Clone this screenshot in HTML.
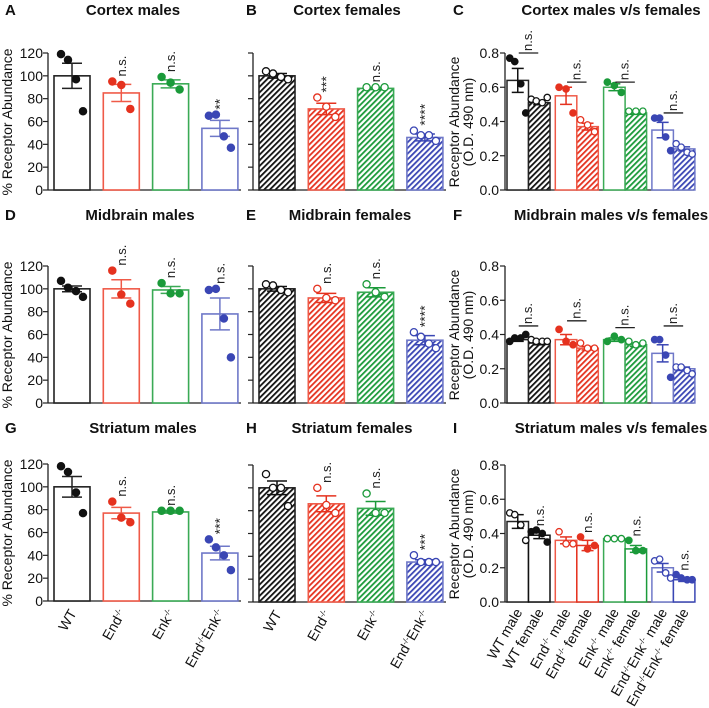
<!DOCTYPE html>
<html><head><meta charset="utf-8"><style>
html,body{margin:0;padding:0;background:#fff;}
svg{display:block;font-family:"Liberation Sans",Arial,sans-serif;}
</style></head><body>
<svg id="fig" width="709" height="708" viewBox="0 0 709 708" xmlns="http://www.w3.org/2000/svg">
<defs>
<pattern id="h-k" width="4" height="4" patternUnits="userSpaceOnUse" patternTransform="rotate(45)"><rect width="4" height="4" fill="#fff"/><rect width="1.8" height="4" fill="#111"/></pattern>
<pattern id="h-r" width="4" height="4" patternUnits="userSpaceOnUse" patternTransform="rotate(45)"><rect width="4" height="4" fill="#fff"/><rect width="1.8" height="4" fill="#e5321f"/></pattern>
<pattern id="h-g" width="4" height="4" patternUnits="userSpaceOnUse" patternTransform="rotate(45)"><rect width="4" height="4" fill="#fff"/><rect width="1.8" height="4" fill="#1b9a3a"/></pattern>
<pattern id="h-b" width="4" height="4" patternUnits="userSpaceOnUse" patternTransform="rotate(45)"><rect width="4" height="4" fill="#fff"/><rect width="1.8" height="4" fill="#3a46b4"/></pattern>
</defs>
</svg>
<script>
// ---- data ----
const groups = ['WT','End','Enk','DKO'];
const pctTicks = [0,20,40,60,80,100,120];
const odTicks = ['0.0','0.2','0.4','0.6','0.8'];
// A Cortex males
const aMeans=[100,85,93,54]; const aSem=[11,7.5,3.5,7];
const aPts=[[119,114,97,69],[95,92,71],[99,94,88],[65,66,47,37]]; const aSig=['','n.s.','n.s.','**'];
// B Cortex females
const bMeans=[100,71,89,46]; const bSem=[2,5,1,3];
const bPts=[[104,102,99,97],[81,73,64],[90,90,90],[52,48,48,43]]; const bSig=['','***','n.s.','****'];
// C Cortex m vs f
const cMaleMeans=[0.64,0.55,0.60,0.35]; const cMaleSem=[0.07,0.05,0.02,0.045];
const cFemMeans=[0.51,0.37,0.45,0.24]; const cFemSem=[0.012,0.02,0.008,0.012];
const cMalePts=[[0.77,0.75,0.62,0.45],[0.60,0.59,0.45],[0.63,0.61,0.57],[0.42,0.42,0.31,0.23]];
const cFemPts=[[0.53,0.52,0.51,0.54],[0.41,0.38,0.34],[0.46,0.46,0.46],[0.27,0.25,0.22,0.21]];
const cBracket=[0.80,0.63,0.63,0.45];
// D Midbrain males
const dMeans=[100,100,99,78]; const dSem=[2.5,8,3,14];
const dPts=[[107,101,98,93],[116,95,87],[105,96,96],[99,100,74,40]]; const dSig=['','n.s.','n.s.','n.s.'];
// E Midbrain females
const eMeans=[100,92,97,55]; const eSem=[2,4,4,4];
const ePts=[[104,103,99,97],[100,92,90],[104,97,93],[62,58,52,48]]; const eSig=['','n.s.','n.s.','****'];
// F Midbrain m vs f
const fMaleMeans=[0.37,0.37,0.37,0.29]; const fMaleSem=[0.01,0.03,0.01,0.05];
const fFemMeans=[0.35,0.32,0.34,0.20]; const fFemSem=[0.01,0.01,0.01,0.01];
const fMalePts=[[0.36,0.38,0.38,0.40],[0.43,0.36,0.34],[0.36,0.39,0.37],[0.37,0.37,0.28,0.15]];
const fFemPts=[[0.37,0.36,0.36,0.36],[0.35,0.32,0.32],[0.36,0.34,0.35],[0.21,0.21,0.19,0.17]];
const fBracket=[0.45,0.48,0.44,0.45];
// G Striatum males
const gMeans=[100,77,78,42]; const gSem=[9,5,1,6];
const gPts=[[118,113,95,77],[87,73,69],[79,79,79],[54,47,40,27]]; const gSig=['','n.s.','n.s.','***'];
// H Striatum females
const hMeans=[100,86,82,35]; const hSem=[6,7,6,2];
const hPts=[[112,100,100,84],[100,85,78],[95,78,78],[41,35,35,35]]; const hSig=['','n.s.','n.s.','***'];
// I Striatum m vs f
const iMaleMeans=[0.47,0.36,0.37,0.20]; const iMaleSem=[0.04,0.02,0.005,0.025];
const iFemMeans=[0.39,0.33,0.31,0.13]; const iFemSem=[0.02,0.03,0.02,0.01];
const iMalePts=[[0.52,0.51,0.45,0.36],[0.41,0.34,0.34],[0.37,0.37,0.37],[0.24,0.25,0.17,0.14]];
const iFemPts=[[0.41,0.42,0.40,0.35],[0.38,0.31,0.33],[0.36,0.30,0.30],[0.16,0.14,0.13,0.13]];

// ---- drawing ----
const NS='http://www.w3.org/2000/svg';
const svg=document.getElementById('fig');
const COL=['#111','#e5321f','#1b9a3a','#3a46b4'];
const EDGE=['#222','#ef5a48','#3aaa55','#6f78c8'];
const HATCH=['url(#h-k)','url(#h-r)','url(#h-g)','url(#h-b)'];
function mk(tag,attrs,parent){const e=document.createElementNS(NS,tag);for(const k in attrs)e.setAttribute(k,attrs[k]);(parent||svg).appendChild(e);return e;}
function txt(s,attrs,parent){const e=mk('text',attrs,parent);e.textContent=s;return e;}
const offs={1:[0],2:[-5,5],3:[-9,0,9],4:[-11,-4,4,11]};
const offsSmall={1:[0],2:[-4,4],3:[-7,0,7],4:[-8,-3,3,8]};

function title(letter,t,lx,cx,y){
  const l=txt(letter,{x:lx,y:y+5,'font-size':15,'font-weight':'bold',fill:'#111'});
  
  
  const tt=txt(t,{x:cx,y:y+5,'font-size':15,'font-weight':'bold','text-anchor':'middle',fill:'#111'});
  
  
}
function sigText(s,x,y,g){
  const t=txt(s,{x:0,y:0,'font-size':s==='n.s.'?13:14,fill:'#222',transform:`translate(${x+4.5},${y}) rotate(-90)`},g);
  
  
}
function supLabel(g,parts,x,y){
  const t=mk('text',{x:0,y:0,'font-size':14,'text-anchor':'end',fill:'#111',transform:`translate(${x},${y}) rotate(-60)`},g);
  
  
  parts.forEach(p=>{const s=mk('tspan',{},t);if(p[1]){s.setAttribute('font-size',8);s.setAttribute('dy',-5);}else if(t.childNodes.length>1){s.setAttribute('dy',5);}s.textContent=p[0];});
}
function dots(g,cx,pts,yf,col,open,small){
  const o=(small?offsSmall:offs)[pts.length]||pts.map((_,i)=>0);
  pts.forEach((v,i)=>{const c=mk('circle',{cx:cx+o[i],cy:yf(v),r:small?3.2:3.6,fill:open?'#fff':col,stroke:col,'stroke-width':1.3},g);
    
    });
}
function errbar(g,cx,m,s,yf,col,cap){
  mk('line',{x1:cx,x2:cx,y1:yf(m+s),y2:yf(m-s),stroke:col,'stroke-width':1.5},g);
  mk('line',{x1:cx-cap,x2:cx+cap,y1:yf(m+s),y2:yf(m+s),stroke:col,'stroke-width':1.5},g);
  mk('line',{x1:cx-cap,x2:cx+cap,y1:yf(m-s),y2:yf(m-s),stroke:col,'stroke-width':1.5},g);
}

function pctPanel(name,axisX,base,means,sem,pts,sig,female,showLabels,xlabels){
  const g=mk('g',{});
  
  
  const yf=v=>base-v/120*137;
  mk('line',{x1:axisX,x2:axisX,y1:yf(120),y2:base,stroke:'#222','stroke-width':1.3},g);
  mk('line',{x1:axisX,x2:axisX+193,y1:base,y2:base,stroke:'#222','stroke-width':1.3},g);
  pctTicks.forEach(t=>{mk('line',{x1:axisX-5,x2:axisX,y1:yf(t),y2:yf(t),stroke:'#222','stroke-width':1.2},g);
    if(showLabels){const l=txt(String(t),{x:axisX-5,y:yf(t)+5,'font-size':14,'text-anchor':'end',fill:'#111'},g);
      }});
  if(showLabels){const yt=txt('% Receptor Abundance',{x:0,y:0,'font-size':14,'text-anchor':'middle',fill:'#111',transform:`translate(${axisX-36},${base-68}) rotate(-90)`},g);
    }
  means.forEach((m,i)=>{
    const x0=axisX+6+i*49.3, cx=x0+18;
    const b=mk('rect',{x:x0,y:yf(m),width:36,height:base-yf(m),fill:female?HATCH[i]:'#fff',stroke:EDGE[i],'stroke-width':1.6},g);
    
    
    errbar(g,cx,m,sem[i],yf,female?COL[i]:EDGE[i],10);
    dots(g,cx,pts[i],yf,COL[i],female,false);
    if(sig[i]){const top=Math.min(yf(m+sem[i]),...pts[i].map(yf))-5;sigText(sig[i],cx,top,g);}
    if(xlabels){supLabel(g,xlabels[i],cx+5,base+12);}
  });
}
function odPanel(name,base,mm,ms,fm,fs,mp,fp,bracket,fHatch,xlabels){
  const axisX=505;
  const g=mk('g',{});
  
  
  const yf=v=>base-v/0.8*137;
  mk('line',{x1:axisX,x2:axisX,y1:yf(0.8),y2:base,stroke:'#222','stroke-width':1.3},g);
  mk('line',{x1:axisX,x2:694,y1:base,y2:base,stroke:'#222','stroke-width':1.3},g);
  odTicks.forEach(t=>{const v=parseFloat(t);mk('line',{x1:axisX-5,x2:axisX,y1:yf(v),y2:yf(v),stroke:'#222','stroke-width':1.2},g);
    const l=txt(t,{x:axisX-6,y:yf(v)+5,'font-size':14,'text-anchor':'end',fill:'#111'},g);
    });
  const y1=txt('Receptor Abundance',{x:0,y:0,'font-size':14,'text-anchor':'middle',fill:'#111',transform:`translate(${axisX-46},${base-68}) rotate(-90)`},g);
  
  const y2=txt('(O.D. 490 nm)',{x:0,y:0,'font-size':14,'text-anchor':'middle',fill:'#111',transform:`translate(${axisX-32},${base-68}) rotate(-90)`},g);
  
  mm.forEach((m,i)=>{
    const x0=507+i*48.3, mcx=x0+10.75, fcx=x0+32.25;
    const bm=mk('rect',{x:x0,y:yf(m),width:21.5,height:base-yf(m),fill:'#fff',stroke:EDGE[i],'stroke-width':1.5},g);
    
    
    const bf=mk('rect',{x:x0+21.5,y:yf(fm[i]),width:21.5,height:base-yf(fm[i]),fill:fHatch?HATCH[i]:'#fff',stroke:fHatch?EDGE[i]:COL[i],'stroke-width':1.5},g);
    
    
    errbar(g,mcx,m,ms[i],yf,COL[i],6);
    errbar(g,fcx,fm[i],fs[i],yf,COL[i],6);
    dots(g,mcx,mp[i],yf,COL[i],!fHatch,true);
    dots(g,fcx,fp[i],yf,COL[i],fHatch,true);
    if(bracket){mk('line',{x1:mcx+1,x2:fcx-1,y1:yf(bracket[i]),y2:yf(bracket[i]),stroke:'#222','stroke-width':1.3},g);
      sigText('n.s.',(mcx+fcx)/2-1,yf(bracket[i])-2,g);}
    else{const top=Math.min(yf(fm[i]+fs[i]),...fp[i].map(yf))-4;sigText('n.s.',fcx,top,g);}
    if(xlabels){supLabel(g,xlabels[2*i],mcx+5,base+10);supLabel(g,xlabels[2*i+1],fcx+5,base+10);}
  });
}
// titles
title('A','Cortex males',5,133,10);
title('B','Cortex females',246,347,10);
title('C','Cortex males v/s females',453,611,10);
title('D','Midbrain males',5,140,215);
title('E','Midbrain females',246,350,215);
title('F','Midbrain males v/s females',453,611,215);
title('G','Striatum males',5,143,428);
title('H','Striatum females',246,352,428);
title('I','Striatum males v/s females',453,611,428);

const SUP='-/-';
const pctLabels=[[['WT']],[['End'],[SUP,1]],[['Enk'],[SUP,1]],[['End'],[SUP,1],['Enk'],[SUP,1]]];
const odLabels=[[['WT male']],[['WT female']],[['End'],[SUP,1],[' male']],[['End'],[SUP,1],[' female']],
 [['Enk'],[SUP,1],[' male']],[['Enk'],[SUP,1],[' female']],[['End'],[SUP,1],['Enk'],[SUP,1],[' male']],[['End'],[SUP,1],['Enk'],[SUP,1],[' female']]];

pctPanel('panel-a-cortex-males',48,190,aMeans,aSem,aPts,aSig,false,true);
pctPanel('panel-b-cortex-females',253,190,bMeans,bSem,bPts,bSig,true,false);
odPanel('panel-c-cortex-mf',190,cMaleMeans,cMaleSem,cFemMeans,cFemSem,cMalePts,cFemPts,cBracket,true);
pctPanel('panel-d-midbrain-males',48,403,dMeans,dSem,dPts,dSig,false,true);
pctPanel('panel-e-midbrain-females',253,403,eMeans,eSem,ePts,eSig,true,false);
odPanel('panel-f-midbrain-mf',403,fMaleMeans,fMaleSem,fFemMeans,fFemSem,fMalePts,fFemPts,fBracket,true);
pctPanel('panel-g-striatum-males',48,601,gMeans,gSem,gPts,gSig,false,true,pctLabels);
pctPanel('panel-h-striatum-females',253,602,hMeans,hSem,hPts,hSig,true,false,pctLabels);
odPanel('panel-i-striatum-mf',602,iMaleMeans,iMaleSem,iFemMeans,iFemSem,iMalePts,iFemPts,null,false,odLabels);
</script>
</body></html>
